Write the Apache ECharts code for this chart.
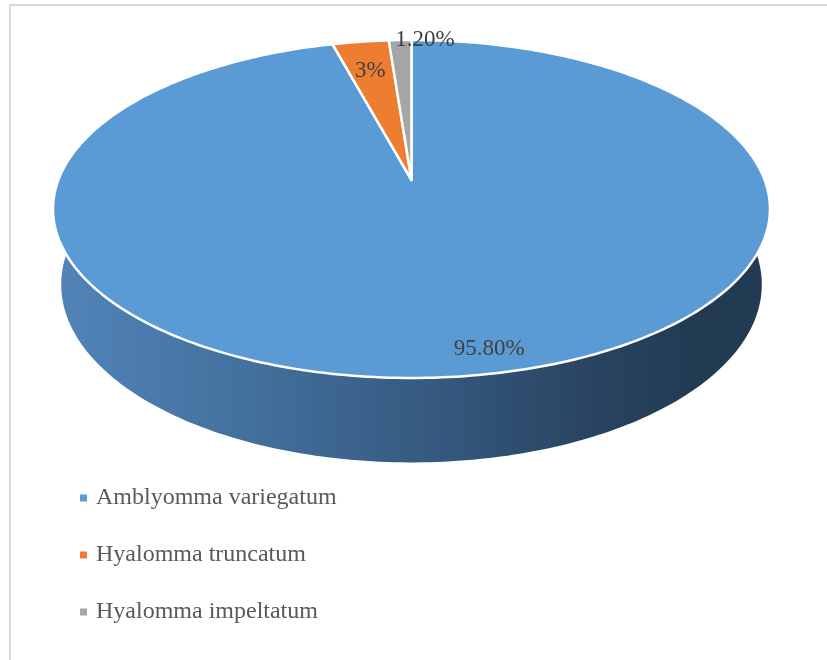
<!DOCTYPE html>
<html>
<head>
<meta charset="utf-8">
<script src="https://cdn.jsdelivr.net/npm/echarts@6/dist/echarts.min.js"></script>
<style>html,body{margin:0;padding:0;background:#fff}#chart{width:827px;height:660px}</style>
</head>
<body>
<div id="chart"></div>
<script>
// ---- data ----
const categories = ['Amblyomma variegatum', 'Hyalomma truncatum', 'Hyalomma impeltatum'];
const values = [95.8, 3, 1.2];
const valueLabels = ['95.80%', '3%', '1.20%'];

// ---- style ----
const colors = ['#5b9bd5', '#ed7d31', '#a5a5a5'];
const sideStops = [
  [['#5284b9', 0], ['#4472a0', 0.25], ['#375c83', 0.5], ['#294461', 0.75], ['#223b53', 0.9], ['#223b53', 1]],
  [['#c0652a', 0], ['#7a3f18', 1]],
  [['#8a8a8a', 0], ['#555555', 1]]
];
const labelCfg = [
  { r: 0.875, dx: 30, dy: 2, align: 'center' },
  { r: 0.78, dx: 0, dy: 2, align: 'center' },
  { r: 1.02, dx: 25, dy: 2, align: 'center' }
];

// perspective projection parameters
const CX = 411.5, CY = 180;
const ALPHA = Math.asin(0.47);
const S = Math.sin(ALPHA), C = Math.cos(ALPHA);
const D = 5.83 * C;
const F = 140 * (D + C) / S;
const XS = 1.012;
const H = 0.248;

function proj(theta, r, h) {
  const X = r * Math.sin(theta), Z = r * Math.cos(theta);
  const yc = Z * S + h * C;
  const zc = D + Z * C - h * S;
  return [CX + XS * F * X / zc, CY - F * yc / zc];
}

const total = values.reduce((a, b) => a + b, 0);
const starts = [];
{ let acc = 0; values.forEach(v => { starts.push(acc / total * 2 * Math.PI); acc += v; }); }

function arc(a0, a1, h) {
  const pts = [];
  const n = Math.max(2, Math.ceil((a1 - a0) / (Math.PI / 180)));
  for (let k = 0; k <= n; k++) pts.push(proj(a0 + (a1 - a0) * k / n, 1, h));
  return pts;
}

const series = categories.map((name, i) => ({
  type: 'custom',
  name: name,
  coordinateSystem: 'none',
  data: [values[i]],
  silent: true,
  renderItem: function (params, api) {
    const v = api.value(0);
    const a0 = starts[i];
    const a1 = a0 + v / total * 2 * Math.PI;
    const children = [];
    // visible side band (front part)
    const s0 = Math.max(a0, Math.PI / 3), s1 = Math.min(a1, 5 * Math.PI / 3);
    if (s1 > s0) {
      const top = arc(s0, s1, 0);
      const bot = arc(s0, s1, -H).reverse();
      children.push({
        type: 'polygon',
        z2: 1,
        shape: { points: top.concat(bot) },
        style: {
          fill: new echarts.graphic.LinearGradient(53, 0, 770, 0,
            sideStops[i].map(s => ({ offset: s[1], color: s[0] })), true),
          stroke: null
        }
      });
    }
    // top face
    const topPts = [proj(0, 0, 0)].concat(arc(a0, a1, 0));
    children.push({
      type: 'polygon',
      z2: 10,
      shape: { points: topPts },
      style: { fill: colors[i], stroke: '#ffffff', lineWidth: 2.5, lineJoin: 'round' }
    });
    // label
    const mid = (a0 + a1) / 2;
    const lc = labelCfg[i];
    const p = proj(mid, lc.r, 0);
    children.push({
      type: 'text',
      z2: 20,
      x: p[0] + lc.dx,
      y: p[1] + lc.dy,
      style: {
        text: valueLabels[i],
        fill: '#404040',
        fontFamily: 'Liberation Serif',
        fontSize: 23,
        align: lc.align,
        verticalAlign: 'middle'
      }
    });
    return { type: 'group', children: children };
  }
}));

const chart = echarts.init(document.getElementById('chart'), null, { renderer: 'canvas' });
chart.setOption({
  animation: false,
  color: colors,
  backgroundColor: '#ffffff',
  graphic: [{
    type: 'rect',
    z: -10,
    shape: { x: 10, y: 5, width: 900, height: 800 },
    style: { fill: 'none', stroke: '#d9d9d9', lineWidth: 2 }
  }],
  legend: {
    orient: 'vertical',
    left: 75,
    top: 481,
    icon: 'rect',
    itemWidth: 7,
    itemHeight: 7,
    itemGap: 33,
    selectedMode: false,
    data: categories,
    textStyle: {
      fontFamily: 'Liberation Serif',
      fontSize: 24,
      color: '#595959',
      lineHeight: 24,
      padding: [0, 0, 0, 4]
    }
  },
  series: series
});
</script>
</body>
</html>
